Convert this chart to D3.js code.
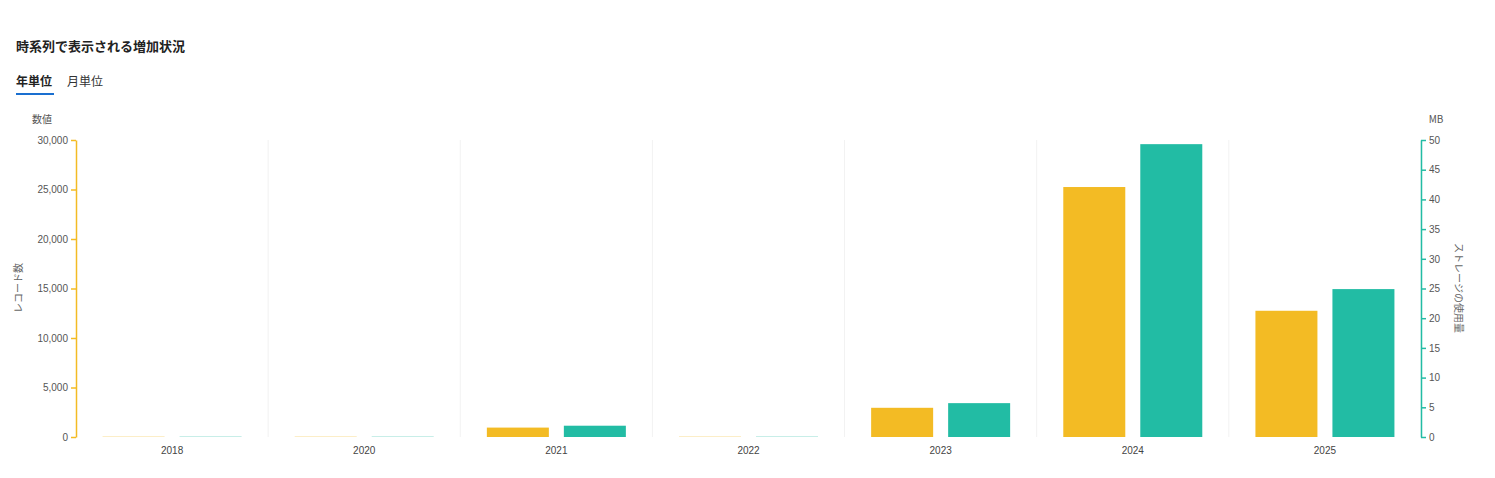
<!DOCTYPE html>
<html><head><meta charset="utf-8">
<script src="https://cdn.jsdelivr.net/npm/d3@7"></script>
<style>
body{margin:0;background:#fff;font-family:"Noto Sans CJK JP","Noto Sans",sans-serif;}
</style></head>
<body><svg id="chart" width="1495" height="478"></svg>
<script>
// data
const years = ["2018", "2020", "2021", "2022", "2023", "2024", "2025"];
const records = [60, 40, 950, 50, 2950, 25250, 12750];
const storageMb = [0.1, 0.08, 1.9, 0.1, 5.7, 49.3, 24.9];
const faded = ["2018", "2020", "2022"];
const leftTicks = [0, 5000, 10000, 15000, 20000, 25000, 30000];
const rightTicks = d3.range(0, 55, 5);

const YELLOW = "#f3bb24", GREEN = "#22bca4";
const svg = d3.select("#chart");
const m = {left: 76, right: 1421, top: 140, bottom: 437};

// header
svg.append("text").attr("x", 16).attr("y", 51).attr("font-size", 13).attr("font-weight", "bold")
    .attr("fill", "#222").text("時系列で表示される増加状況");
svg.append("text").attr("x", 16).attr("y", 86).attr("font-size", 12).attr("font-weight", "bold")
    .attr("fill", "#222").text("年単位");
svg.append("rect").attr("x", 16).attr("y", 93).attr("width", 38).attr("height", 2).attr("fill", "#1a6fd0");
svg.append("text").attr("x", 67).attr("y", 86).attr("font-size", 12).attr("fill", "#333").text("月単位");

const x = d3.scaleBand().domain(years).range([m.left, m.right]);
const yL = d3.scaleLinear().domain([0, 30000]).range([m.bottom, m.top]);
const yR = d3.scaleLinear().domain([0, 50]).range([m.bottom, m.top]);

// grid separators
svg.append("g").selectAll("line").data(years.slice(1).concat(["end"])).join("line")
    .attr("x1", (d, i) => m.left + x.bandwidth() * (i + 1)).attr("x2", (d, i) => m.left + x.bandwidth() * (i + 1))
    .attr("y1", m.top).attr("y2", m.bottom).attr("stroke", "#f2f2f2");

const bw = 62, gap = 15;
const g = svg.append("g");
years.forEach((yr, i) => {
    const op = faded.includes(yr) ? 0.25 : 1;
    const cx = x(yr) + x.bandwidth() / 2;
    g.append("rect").attr("x", cx - gap / 2 - bw).attr("width", bw)
        .attr("y", Math.min(yL(records[i]), m.bottom - 1)).attr("height", Math.max(m.bottom - yL(records[i]), 1))
        .attr("fill", YELLOW).attr("opacity", op);
    g.append("rect").attr("x", cx + gap / 2).attr("width", bw)
        .attr("y", Math.min(yR(storageMb[i]), m.bottom - 1)).attr("height", Math.max(m.bottom - yR(storageMb[i]), 1))
        .attr("fill", GREEN).attr("opacity", op);
});

// axes
const axL = svg.append("g").attr("transform", `translate(${m.left},0)`)
    .call(d3.axisLeft(yL).tickValues(leftTicks).tickSize(5).tickSizeOuter(0));
axL.selectAll("path,line").attr("stroke", YELLOW).attr("stroke-width", 1.5);
axL.selectAll("text").attr("fill", "#555").attr("font-size", 10);

const axR = svg.append("g").attr("transform", `translate(${m.right},0)`)
    .call(d3.axisRight(yR).tickValues(rightTicks).tickSize(5).tickSizeOuter(0));
axR.selectAll("path,line").attr("stroke", GREEN).attr("stroke-width", 1.5);
axR.selectAll("text").attr("fill", "#555").attr("font-size", 10);

const axB = svg.append("g").attr("transform", `translate(0,${m.bottom})`)
    .call(d3.axisBottom(x).tickSize(0).tickPadding(10));
axB.select(".domain").remove();
axB.selectAll("text").attr("fill", "#444").attr("font-size", 10);

// axis titles
svg.append("text").attr("x", 42).attr("y", 123).attr("text-anchor", "middle").attr("font-size", 10)
    .attr("fill", "#555").text("数値");
svg.append("text").attr("x", 1436).attr("y", 123).attr("text-anchor", "middle").attr("font-size", 10)
    .attr("fill", "#555").text("MB");
svg.append("text").attr("transform", "translate(22,288) rotate(-90)").attr("text-anchor", "middle")
    .attr("font-size", 10).attr("fill", "#666").text("レコード数");
svg.append("text").attr("transform", "translate(1455,288) rotate(90)").attr("text-anchor", "middle")
    .attr("font-size", 10).attr("fill", "#666").text("ストレージの使用量");
</script></body></html>
